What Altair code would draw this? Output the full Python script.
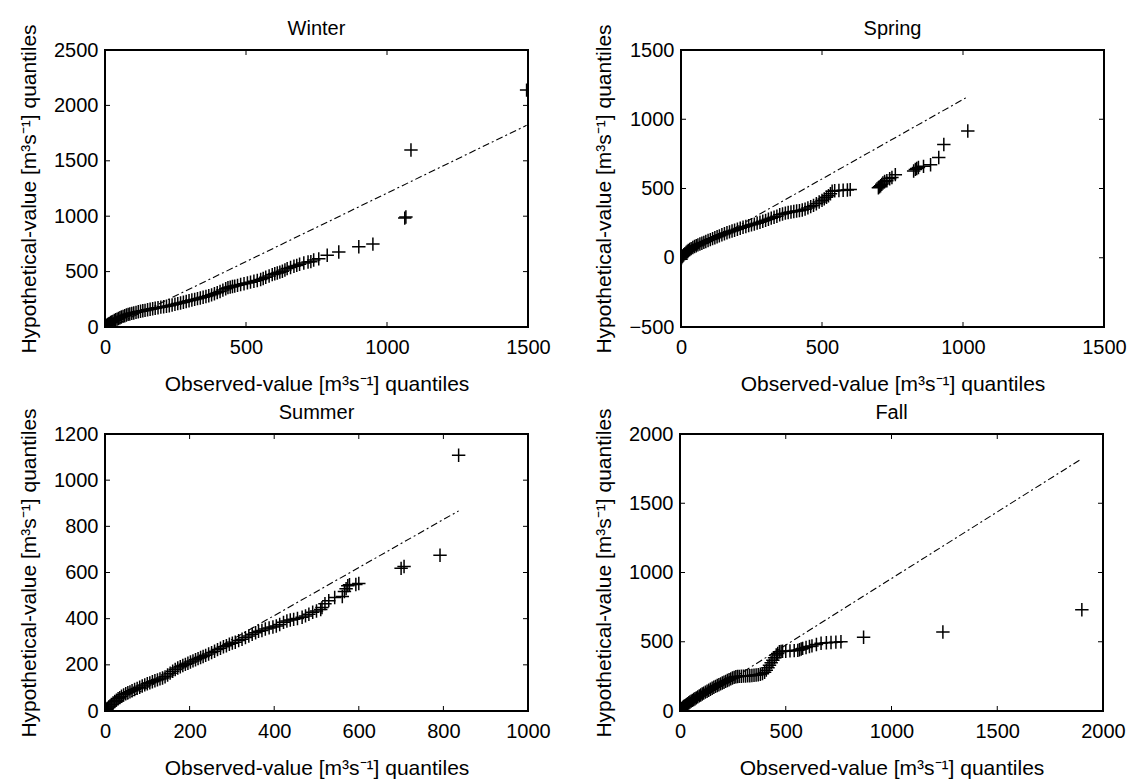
import altair as alt
import pandas as pd

FONT = "Liberation Sans"
W, H = 423, 277
XT = "Observed-value [m³s⁻¹] quantiles"
YT = "Hypothetical-value [m³s⁻¹] quantiles"
CROSS = "M-1,0L1,0M0,-1L0,1"

# ---------------- Winter ----------------
winter_obs = [0, 2, 4, 6, 8, 10, 13, 16, 20, 24, 28, 33, 38, 43, 48, 53, 58, 64, 70, 76, 82, 88, 95, 102,
              110, 118, 126, 134, 142, 151, 160, 169, 178, 188, 198, 208, 218, 228, 238, 248, 258, 268,
              278, 288, 298, 308, 318, 328, 338, 348, 358, 368, 378, 388, 398, 408, 418, 428, 436, 444,
              452, 460, 470, 481, 493, 505, 516, 528, 540, 552, 561, 570, 582, 593, 602, 611, 620, 629,
              638, 646, 658, 670, 680, 690, 705, 720, 730, 740, 758, 788, 829, 900, 950, 1063, 1067,
              1085, 1495]
winter_hyp = [0, 5, 10, 15, 19, 23, 28, 33, 40, 46, 51, 59, 65, 71, 77, 83, 90, 96, 102, 108, 114, 118, 123,
              127, 132, 137, 142, 146, 150, 155, 160, 164, 169, 174, 179, 183, 187, 192, 198, 205, 211,
              217, 224, 230, 237, 243, 249, 256, 262, 268, 275, 282, 290, 300, 310, 321, 333, 345, 355,
              360, 365, 369, 376, 383, 391, 398, 405, 413, 420, 428, 438, 449, 461, 473, 480, 488, 495,
              503, 515, 527, 537, 548, 556, 566, 578, 586, 590, 605, 615, 647, 677, 725, 748, 983, 993,
              1598, 2138]
winter_line_obs = [0, 1495]
winter_line_hyp = [-28, 1820]

# ---------------- Spring ----------------
spring_obs = [0, 2, 4, 7, 10, 14, 18, 22, 26, 31, 36, 42, 48, 54, 60, 67, 74, 81, 88, 96, 104, 112, 120,
              128, 136, 145, 154, 163, 172, 181, 190, 200, 210, 220, 230, 240, 250, 260, 270, 280, 290,
              300, 310, 320, 330, 340, 350, 360, 370, 380, 390, 400, 410, 420, 430, 440, 450, 460, 470,
              480, 490, 500, 508, 516, 523, 530, 536, 545, 560, 575, 590, 600, 700, 704, 708, 712, 716,
              722, 730, 740, 748, 760, 825, 831, 836, 842, 860, 885, 914, 932, 1017]
spring_hyp = [-10, 0, 8, 15, 22, 30, 38, 46, 53, 60, 66, 74, 81, 87, 93, 99, 105, 111, 117, 124, 131, 138,
              145, 152, 158, 166, 173, 180, 187, 193, 199, 206, 213, 220, 226, 232, 238, 243, 250, 256,
              263, 270, 278, 286, 293, 300, 310, 316, 322, 327, 330, 334, 337, 340, 345, 351, 360, 369,
              378, 390, 402, 414, 425, 437, 448, 462, 480, 484, 485, 487, 489, 492, 505, 512, 520, 530,
              540, 550, 556, 570, 580, 600, 626, 638, 645, 652, 660, 671, 724, 818, 915]
spring_line_obs = [0, 1015]
spring_line_hyp = [-5, 1160]

# ---------------- Summer ----------------
summer_obs = [0, 2, 4, 6, 9, 12, 15, 19, 23, 27, 31, 35, 39, 44, 49, 54, 59, 64, 70, 76, 82, 88, 94, 100,
              106, 112, 118, 124, 130, 136, 142, 148, 154, 160, 166, 172, 178, 184, 190, 196, 202, 208,
              214, 220, 226, 232, 238, 245, 252, 259, 266, 273, 280, 287, 294, 301, 308, 316, 324, 332,
              340, 348, 356, 363, 371, 379, 388, 397, 405, 413, 422, 430, 438, 446, 455, 466, 474, 482,
              491, 500, 510, 513, 520, 529, 543, 561, 566, 570, 574, 578, 593, 600, 700, 707, 792, 836]
summer_hyp = [0, 4, 8, 12, 17, 22, 28, 35, 41, 47, 53, 58, 64, 70, 75, 79, 83, 88, 93, 98, 103, 108, 113,
              118, 122, 127, 131, 135, 139, 143, 148, 156, 164, 172, 180, 186, 192, 197, 202, 207, 212,
              217, 222, 227, 232, 236, 241, 247, 253, 259, 266, 272, 278, 283, 289, 294, 298, 305, 311,
              318, 325, 332, 339, 345, 349, 355, 360, 364, 368, 375, 384, 390, 394, 397, 401, 406, 412,
              419, 428, 433, 440, 448, 465, 478, 492, 496, 518, 530, 543, 547, 548, 552, 618, 626, 675,
              1108]
summer_line_obs = [0, 836]
summer_line_hyp = [-3, 867]

# ---------------- Fall ----------------
fall_obs = [0, 2, 4, 6, 8, 11, 14, 18, 22, 27, 32, 37, 42, 47, 53, 59, 65, 71, 77, 84, 91, 98, 105, 112,
            120, 128, 136, 144, 152, 160, 168, 176, 184, 192, 200, 208, 216, 224, 232, 240, 248, 256, 264,
            272, 280, 290, 300, 310, 320, 330, 340, 350, 360, 370, 380, 390, 400, 408, 416, 423, 431, 439,
            447, 455, 462, 470, 478, 485, 500, 520, 540, 557, 565, 573, 580, 596, 612, 624, 645, 667, 692,
            714, 737, 761, 868, 1243, 1900]
fall_hyp = [0, 4, 8, 12, 17, 22, 27, 32, 37, 42, 48, 53, 59, 65, 71, 77, 83, 89, 95, 102, 109, 116, 123,
            129, 136, 143, 150, 157, 164, 171, 178, 184, 190, 196, 202, 208, 214, 220, 226, 232, 238, 243,
            247, 249, 250, 251, 252, 253, 254, 255, 256, 258, 260, 262, 265, 270, 280, 295, 312, 331, 349,
            367, 385, 404, 416, 428, 430, 431, 432, 434, 436, 438, 442, 448, 452, 458, 466, 470, 480, 489,
            493, 495, 497, 500, 532, 570, 731]
fall_line_obs = [0, 1900]
fall_line_hyp = [-5, 1822]


def panel(title, obs, hyp, lobs, lhyp, xdom, ydom, xticks, yticks):
    xs = alt.Scale(domain=xdom, nice=False, zero=False)
    ys = alt.Scale(domain=ydom, nice=False, zero=False)
    xaxis = alt.Axis(values=xticks, title=XT, format="d")
    yaxis = alt.Axis(values=yticks, title=YT, format="d")
    xenc = alt.X("obs:Q", scale=xs, axis=xaxis)
    yenc = alt.Y("hyp:Q", scale=ys, axis=yaxis)

    pts = pd.DataFrame({"obs": obs, "hyp": hyp})
    ln = pd.DataFrame({"obs": lobs, "hyp": lhyp})
    xt = pd.DataFrame({"obs": xticks})
    yt = pd.DataFrame({"hyp": yticks})

    line = alt.Chart(ln).mark_line(
        clip=True, color="black", strokeWidth=1.1, strokeDash=[7, 3, 2, 3]
    ).encode(x=xenc, y=yenc)
    points = alt.Chart(pts).mark_point(
        shape=CROSS, size=180, filled=False, color="black", strokeWidth=1.5,
        opacity=1, clip=True
    ).encode(x=xenc, y=yenc)
    tb = alt.Chart(xt).mark_rule(color="black", strokeWidth=1).encode(
        x=xenc, y=alt.value(H), y2=alt.value(H - 5))
    tt = alt.Chart(xt).mark_rule(color="black", strokeWidth=1).encode(
        x=xenc, y=alt.value(0), y2=alt.value(5))
    tl = alt.Chart(yt).mark_rule(color="black", strokeWidth=1).encode(
        y=yenc, x=alt.value(0), x2=alt.value(5))
    tr = alt.Chart(yt).mark_rule(color="black", strokeWidth=1).encode(
        y=yenc, x=alt.value(W), x2=alt.value(W - 5))
    return alt.layer(line, points, tb, tt, tl, tr).properties(
        width=W, height=H, title=alt.TitleParams(title, offset=-15, frame="group"))


winter = panel("Winter", winter_obs, winter_hyp, winter_line_obs, winter_line_hyp,
               [0, 1500], [0, 2500], [0, 500, 1000, 1500], [0, 500, 1000, 1500, 2000, 2500])
spring = panel("Spring", spring_obs, spring_hyp, spring_line_obs, spring_line_hyp,
               [0, 1500], [-500, 1500], [0, 500, 1000, 1500], [-500, 0, 500, 1000, 1500])
summer = panel("Summer", summer_obs, summer_hyp, summer_line_obs, summer_line_hyp,
               [0, 1000], [0, 1200], [0, 200, 400, 600, 800, 1000], [0, 200, 400, 600, 800, 1000, 1200])
fall = panel("Fall", fall_obs, fall_hyp, fall_line_obs, fall_line_hyp,
             [0, 2000], [0, 2000], [0, 500, 1000, 1500, 2000], [0, 500, 1000, 1500, 2000])

row1 = alt.hconcat(winter, spring, spacing=40)
row2 = alt.hconcat(summer, fall, spacing=40)

chart = alt.vconcat(row1, row2, spacing=6).properties(
    padding={"left": 17, "top": 17, "right": 0, "bottom": 0},
    background="white",
).configure_view(
    stroke="black", strokeWidth=2
).configure_axis(
    grid=False, domain=False, ticks=False, labelFont=FONT, labelFontSize=20,
    labelColor="black", titleFont=FONT, titleFontSize=21, titleFontWeight="normal",
    titleColor="black", labelFlush=False
).configure_axisX(
    labelPadding=10, titlePadding=16
).configure_axisY(
    labelPadding=7, titlePadding=14
).configure_title(
    font=FONT, fontSize=20, fontWeight="normal", color="black"
)

chart.save("out.html", embed_options={"renderer": "svg", "actions": False})
